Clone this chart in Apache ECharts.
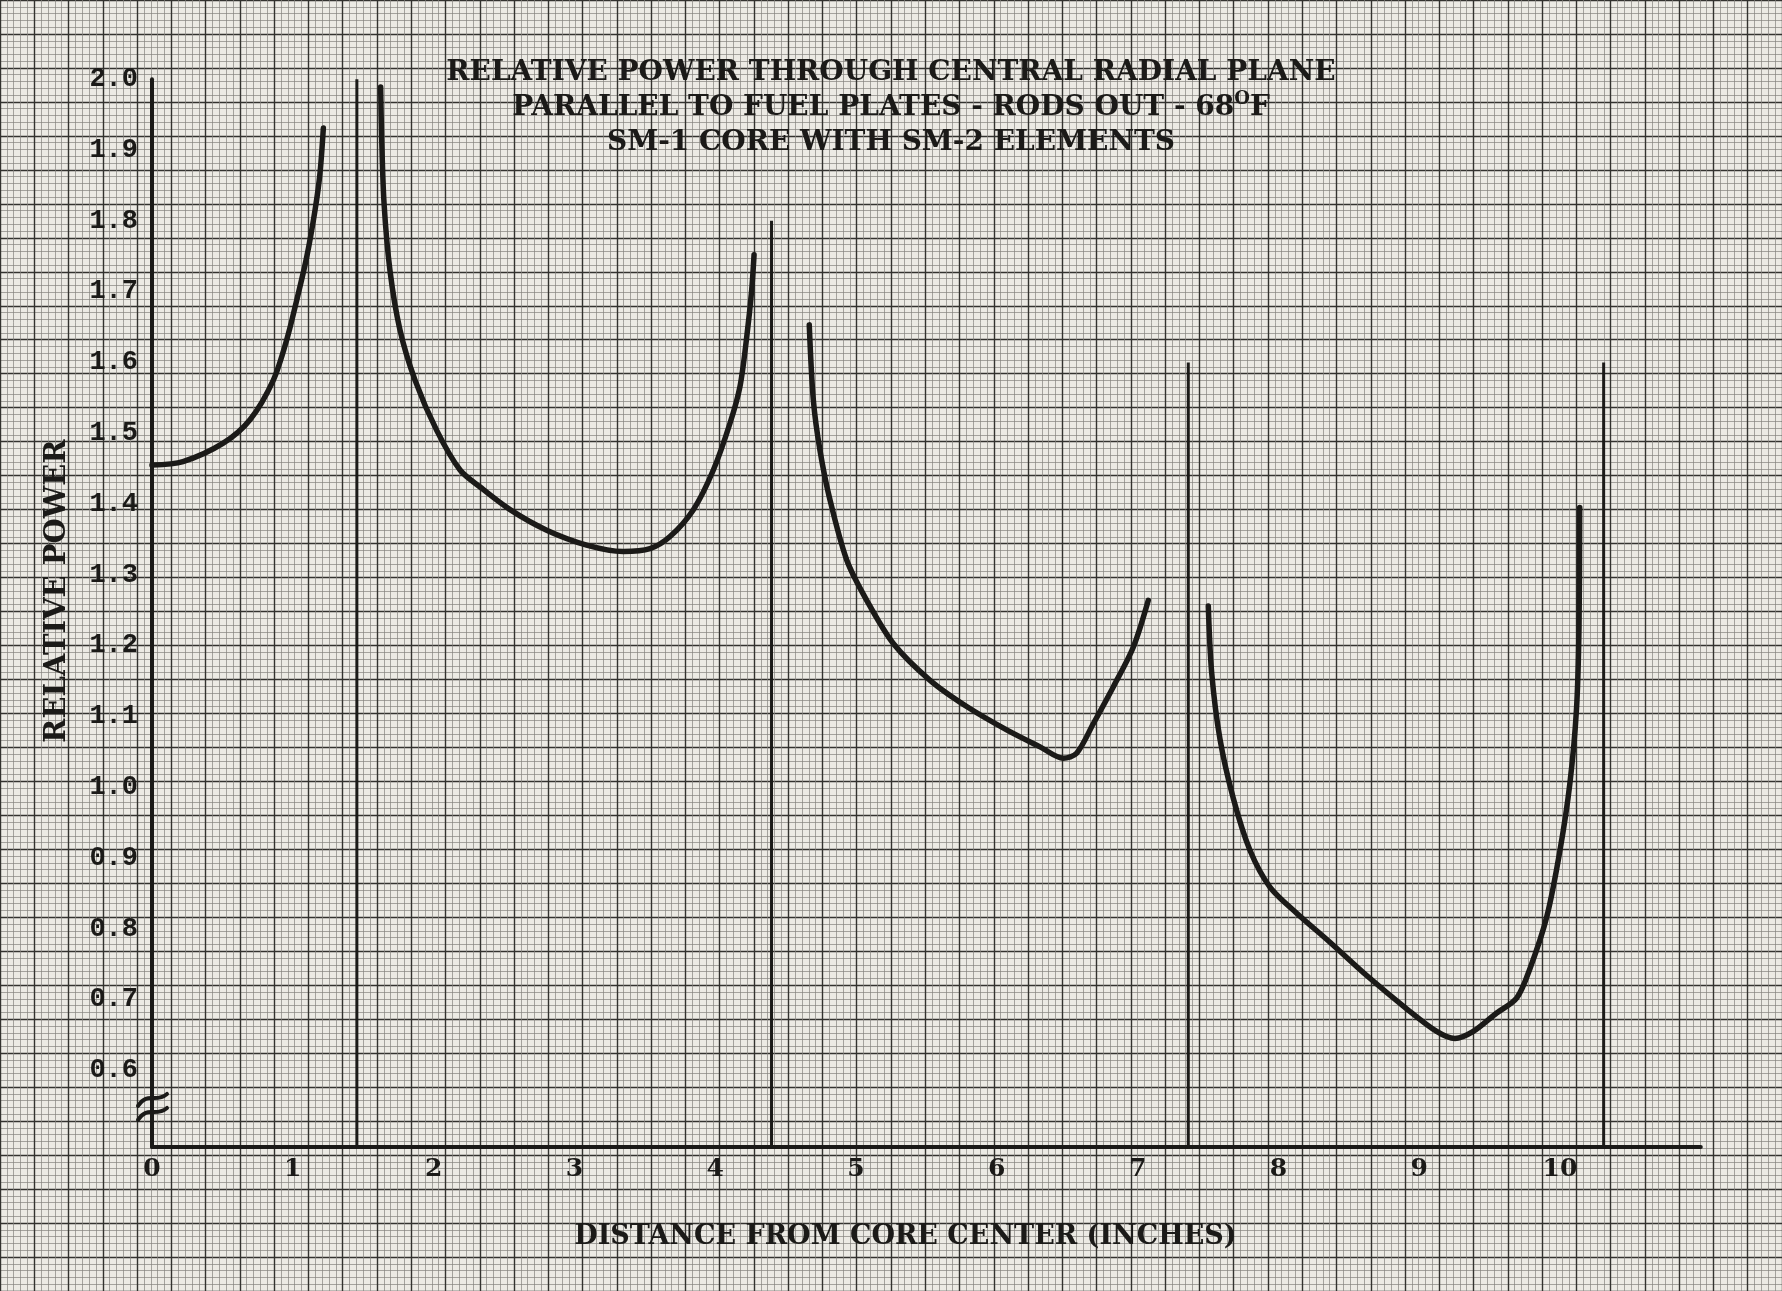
<!DOCTYPE html>
<html>
<head>
<meta charset="utf-8">
<script src="https://cdn.jsdelivr.net/npm/echarts@6/dist/echarts.min.js"></script>
<style>
  html, body { margin: 0; padding: 0; background: #eceae4; }
  #chart { width: 1782px; height: 1291px; }
</style>
</head>
<body>
<div id="chart"></div>
<script>
// Relative power across the central radial plane, one curve per fuel element region.
const distance1 = [0, 0.22, 0.506, 0.696, 0.862, 0.957, 1.028, 1.099, 1.158, 1.193, 1.217];
const power1    = [1.455, 1.46, 1.486, 1.519, 1.575, 1.632, 1.688, 1.749, 1.815, 1.867, 1.931];

const distance2 = [1.624, 1.631, 1.648, 1.69, 1.761, 1.868, 2.022, 2.188, 2.33, 2.543, 2.803, 3.087, 3.347, 3.537, 3.679, 3.845, 3.987, 4.105, 4.176, 4.224, 4.259, 4.276];
const power2    = [1.989, 1.919, 1.825, 1.73, 1.646, 1.575, 1.504, 1.448, 1.424, 1.392, 1.363, 1.342, 1.333, 1.337, 1.354, 1.392, 1.448, 1.514, 1.566, 1.636, 1.702, 1.752];

const distance3 = [4.668, 4.697, 4.744, 4.815, 4.934, 5.076, 5.265, 5.526, 5.786, 6.07, 6.307, 6.472, 6.567, 6.686, 6.828, 6.97, 7.076];
const power3    = [1.653, 1.547, 1.476, 1.406, 1.321, 1.264, 1.203, 1.151, 1.114, 1.081, 1.057, 1.041, 1.048, 1.09, 1.142, 1.198, 1.264];

const distance4 = [7.502, 7.526, 7.585, 7.68, 7.798, 7.94, 8.13, 8.366, 8.627, 8.911, 9.124, 9.254, 9.384, 9.55, 9.692, 9.787, 9.906, 10.0, 10.07, 10.117, 10.135, 10.14];
const power4    = [1.256, 1.162, 1.068, 0.984, 0.911, 0.859, 0.822, 0.781, 0.734, 0.687, 0.655, 0.645, 0.655, 0.681, 0.702, 0.744, 0.817, 0.911, 1.005, 1.11, 1.225, 1.395];

// Element boundaries (vertical rules) and how high each is drawn
const boundaryX   = [1.455, 4.40, 7.36, 10.31];
const boundaryTop = [2.0, 1.8, 1.6, 1.6];

// Tick labels
const xTickValues = [0, 1, 2, 3, 4, 5, 6, 7, 8, 9, 10];
const yTickValues = [0.6, 0.7, 0.8, 0.9, 1.0, 1.1, 1.2, 1.3, 1.4, 1.5, 1.6, 1.7, 1.8, 1.9, 2.0];

// Axis extents; the value axis is broken just below 0.6
const X_MIN = 0, X_MAX = 11;
const Y_MIN = 0.492, Y_MAX = 2.0;
const axisBreakAt = 0.547;

// Scale of the ruled paper: pixels per inch and per unit of relative power
const PX_PER_INCH = 140.8;
const PX_PER_UNIT = 708;
const PLOT_LEFT = 152;
const PLOT_TOP = 79.2;

// Paper ruling extends past the page edges
const PAPER_X_MIN = -1.25, PAPER_X_MAX = 11.75;
const PAPER_Y_MIN = 0.25,  PAPER_Y_MAX = 2.15;

const ink = '#1b1a18';
const serif = '"DejaVu Serif", "Liberation Serif", serif';
const typewriter = '"Liberation Mono", "DejaVu Sans Mono", monospace';

const zip = (xs, ys) => xs.map((x, i) => [x, ys[i]]);

const curveSeries = [[distance1, power1], [distance2, power2], [distance3, power3], [distance4, power4]]
  .map(([xs, ys]) => ({
    type: 'line',
    xAxisIndex: 1,
    yAxisIndex: 1,
    data: zip(xs, ys),
    smooth: 0.3,
    showSymbol: false,
    symbol: 'none',
    lineStyle: { color: ink, width: 5.5, cap: 'round', join: 'round' },
    z: 11,
    silent: true
  }));

const boundarySeries = boundaryX.map((x, i) => ({
  type: 'line',
  xAxisIndex: 1,
  yAxisIndex: 1,
  data: [[x, Y_MIN], [x, boundaryTop[i]]],
  showSymbol: false,
  symbol: 'none',
  lineStyle: { color: ink, width: 3 },
  z: 10,
  silent: true
}));

const breakSeries = {
  type: 'custom',
  xAxisIndex: 1,
  yAxisIndex: 1,
  clip: false,
  z: 12,
  silent: true,
  data: [[X_MIN, axisBreakAt]],
  renderItem: function (params, api) {
    const p = api.coord([api.value(0), api.value(1)]);
    const stroke = (dy) => ({
      type: 'bezierCurve',
      shape: {
        x1: p[0] - 14, y1: p[1] + dy + 5,
        cpx1: p[0] - 4, cpy1: p[1] + dy - 10,
        cpx2: p[0] + 3, cpy2: p[1] + dy + 3,
        x2: p[0] + 15, y2: p[1] + dy - 7
      },
      style: { stroke: ink, lineWidth: 4, fill: null, lineCap: 'round' }
    });
    return { type: 'group', children: [stroke(-7), stroke(7)] };
  }
};

const chart = echarts.init(document.getElementById('chart'), null, { renderer: 'canvas' });

chart.setOption({
  backgroundColor: '#eceae4',
  animation: false,
  title: {
    text: 'RELATIVE POWER THROUGH CENTRAL RADIAL PLANE\nPARALLEL TO FUEL PLATES - RODS OUT - 68{sup|O}F\nSM-1 CORE WITH SM-2 ELEMENTS',
    left: 'center',
    top: 50,
    textStyle: {
      fontFamily: serif,
      fontWeight: 'bold',
      fontSize: 28,
      lineHeight: 35,
      color: ink,
      rich: {
        sup: { fontFamily: serif, fontWeight: 'bold', fontSize: 18, lineHeight: 22, verticalAlign: 'top', color: ink }
      }
    }
  },
  grid: [
    {
      // ruled paper
      left: PLOT_LEFT + PAPER_X_MIN * PX_PER_INCH,
      top: PLOT_TOP - (PAPER_Y_MAX - Y_MAX) * PX_PER_UNIT,
      width: (PAPER_X_MAX - PAPER_X_MIN) * PX_PER_INCH,
      height: (PAPER_Y_MAX - PAPER_Y_MIN) * PX_PER_UNIT,
      containLabel: false
    },
    {
      // plot area
      left: PLOT_LEFT,
      top: PLOT_TOP,
      width: (X_MAX - X_MIN) * PX_PER_INCH,
      height: (Y_MAX - Y_MIN) * PX_PER_UNIT,
      containLabel: false
    }
  ],
  xAxis: [
    {
      type: 'value',
      gridIndex: 0,
      min: PAPER_X_MIN,
      max: PAPER_X_MAX,
      interval: 0.25,
      axisLine: { show: false },
      axisTick: { show: false },
      axisLabel: { show: false },
      splitLine: { show: true, lineStyle: { color: '#33322f', width: 1.4 } },
      minorTick: { show: false, splitNumber: 5 },
      minorSplitLine: { show: true, lineStyle: { color: '#85837e', width: 0.7 } },
      z: 0
    },
    {
      type: 'value',
      gridIndex: 1,
      min: X_MIN,
      max: X_MAX,
      interval: 1,
      axisLine: { show: true, onZero: false, lineStyle: { color: ink, width: 4 } },
      axisTick: { show: false },
      splitLine: { show: false },
      axisLabel: {
        customValues: xTickValues,
        margin: 10,
        fontFamily: serif,
        fontWeight: 'bold',
        fontSize: 25,
        color: ink
      },
      name: 'DISTANCE FROM CORE CENTER (INCHES)',
      nameLocation: 'middle',
      nameGap: 77,
      nameTextStyle: {
        fontFamily: serif,
        fontWeight: 'bold',
        fontSize: 27,
        color: ink,
        padding: [0, 42, 0, 0]
      },
      z: 5
    }
  ],
  yAxis: [
    {
      type: 'value',
      gridIndex: 0,
      min: PAPER_Y_MIN,
      max: PAPER_Y_MAX,
      interval: 0.05,
      axisLine: { show: false },
      axisTick: { show: false },
      axisLabel: { show: false },
      splitLine: { show: true, lineStyle: { color: '#33322f', width: 1.4 } },
      minorTick: { show: false, splitNumber: 5 },
      minorSplitLine: { show: true, lineStyle: { color: '#85837e', width: 0.7 } },
      z: 0
    },
    {
      type: 'value',
      gridIndex: 1,
      min: Y_MIN,
      max: Y_MAX,
      axisLine: { show: true, onZero: false, lineStyle: { color: ink, width: 4 } },
      axisTick: { show: false },
      splitLine: { show: false },
      axisLabel: {
        customValues: yTickValues,
        formatter: (v) => v.toFixed(1),
        margin: 14,
        fontFamily: typewriter,
        fontWeight: 'bold',
        fontSize: 27,
        color: ink
      },
      name: 'RELATIVE POWER',
      nameLocation: 'middle',
      nameGap: 80,
      nameRotate: 90,
      nameTextStyle: {
        fontFamily: serif,
        fontWeight: 'bold',
        fontSize: 29,
        color: ink,
        padding: [0, 0, 0, 44]
      },
      z: 5
    }
  ],
  series: [...boundarySeries, ...curveSeries, breakSeries]
});
</script>
</body>
</html>
